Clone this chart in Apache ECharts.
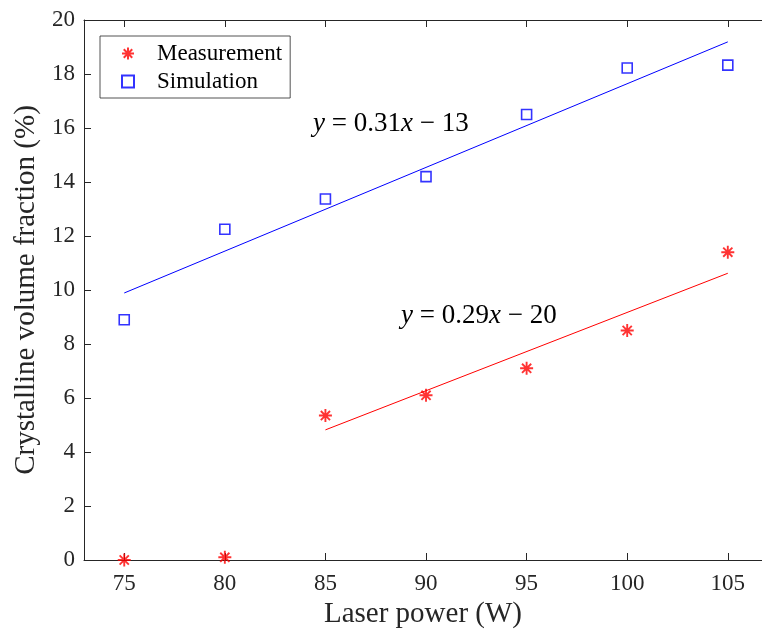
<!DOCTYPE html>
<html>
<head>
<meta charset="utf-8">
<script src="https://cdn.jsdelivr.net/npm/echarts@6/dist/echarts.min.js"></script>
<style>
  html, body { margin: 0; padding: 0; background: #fff; }
  #chart { width: 762px; height: 630px; }
</style>
</head>
<body>
<div id="chart"></div>
<script>
// Laser power settings (W)
const laserPower = [75, 80, 85, 90, 95, 100, 105];
// Crystalline volume fraction (%)
const measurement = [0, 0.1, 5.35, 6.1, 7.1, 8.5, 11.4];
const simulation = [8.9, 12.25, 13.37, 14.2, 16.5, 18.22, 18.33];

// Linear fits drawn between their end points
const simFitX = [75, 105];
const simFitY = [9.89, 19.19];
const measFitX = [85, 105];
const measFitY = [4.82, 10.62];

const xTicks = [75, 80, 85, 90, 95, 100, 105];
const yTicks = [0, 2, 4, 6, 8, 10, 12, 14, 16, 18, 20];

const simEquation = ['y', ' = 0.31', 'x', ' \u2212 13'];
const measEquation = ['y', ' = 0.29', 'x', ' \u2212 20'];

const FONT = 'Liberation Serif';
const INK = '#262626';

const pairs = (xs, ys) => xs.map((x, i) => [x, ys[i]]);

// Eight-spoke asterisk marker and open square marker
const asterisk = 'path://M0,-1L0,1M-1,0L1,0M-0.707,-0.707L0.707,0.707M-0.707,0.707L0.707,-0.707';
const square = 'path://M0,0L1,0L1,1L0,1Z';

function eqRich(parts) {
  return '{i|' + parts[0] + '}{n|' + parts[1] + '}{i|' + parts[2] + '}{n|' + parts[3] + '}';
}
const eqStyle = {
  i: { fontFamily: FONT, fontSize: 27, fontStyle: 'italic', fill: '#000' },
  n: { fontFamily: FONT, fontSize: 27, fill: '#000' }
};

const chart = echarts.init(document.getElementById('chart'), null, { renderer: 'canvas' });

const axisLineStyle = { color: INK, width: 1 };

chart.setOption({
  animation: false,
  backgroundColor: '#fff',
  grid: { left: 84, top: 20, right: 0, bottom: 70, containLabel: false, outerBoundsMode: 'none' },
  xAxis: [
    {
      type: 'value', min: 73, max: 106.7, position: 'bottom',
      name: 'Laser power (W)', nameLocation: 'middle', nameGap: 38,
      nameTextStyle: { fontFamily: FONT, fontSize: 29, color: INK },
      axisLine: { show: true, onZero: false, lineStyle: axisLineStyle },
      axisTick: { show: true, inside: true, length: 7, customValues: xTicks, lineStyle: axisLineStyle },
      axisLabel: { customValues: xTicks, fontFamily: FONT, fontSize: 23, color: INK, margin: 12 },
      splitLine: { show: false }
    },
    {
      type: 'value', min: 73, max: 106.7, position: 'top',
      axisLine: { show: true, onZero: false, lineStyle: axisLineStyle },
      axisTick: { show: true, inside: true, length: 7, customValues: xTicks, lineStyle: axisLineStyle },
      axisLabel: { show: false },
      splitLine: { show: false }
    }
  ],
  yAxis: [
    {
      type: 'value', min: 0, max: 20, interval: 2, position: 'left',
      name: 'Crystalline volume fraction (%)', nameLocation: 'middle', nameGap: 35,
      nameTextStyle: { fontFamily: FONT, fontSize: 29, color: INK },
      axisLine: { show: true, onZero: false, lineStyle: axisLineStyle },
      axisTick: { show: true, inside: true, length: 7, customValues: yTicks, lineStyle: axisLineStyle },
      axisLabel: { customValues: yTicks, fontFamily: FONT, fontSize: 23, color: INK, margin: 9 },
      splitLine: { show: false }
    }
  ],
  legend: {
    data: ['Measurement', 'Simulation'],
    orient: 'vertical',
    left: 100, top: 36,
    padding: [6, 8, 5, 21],
    itemGap: 5,
    itemWidth: 14, itemHeight: 12,
    symbolKeepAspect: true,
    borderColor: INK, borderWidth: 0.8,
    backgroundColor: '#fff',
    textStyle: { fontFamily: FONT, fontSize: 23, color: '#000', padding: [0, 0, 0, 17] }
  },
  series: [
    {
      name: 'Simulation fit', type: 'line',
      data: pairs(simFitX, simFitY),
      symbol: 'none', lineStyle: { color: '#0000ff', width: 1 }, z: 2
    },
    {
      name: 'Measurement fit', type: 'line',
      data: pairs(measFitX, measFitY),
      symbol: 'none', lineStyle: { color: '#ff0000', width: 1 }, z: 2
    },
    {
      name: 'Measurement', type: 'scatter',
      data: pairs(laserPower, measurement),
      symbol: asterisk, symbolSize: 13, clip: false,
      itemStyle: { color: 'rgba(0,0,0,0)', borderColor: '#ff0000', borderWidth: 1.9 },
      z: 5
    },
    {
      name: 'Simulation', type: 'scatter',
      data: pairs(laserPower, simulation),
      symbol: square, symbolSize: 10, clip: false,
      itemStyle: { color: 'rgba(0,0,0,0)', borderColor: '#0000ff', borderWidth: 1.6 },
      z: 5
    }
  ],
  graphic: [
    {
      type: 'text', left: 313, top: 110, z: 10,
      style: { text: eqRich(simEquation), rich: eqStyle, fontFamily: FONT, fontSize: 27 }
    },
    {
      type: 'text', left: 401, top: 302, z: 10,
      style: { text: eqRich(measEquation), rich: eqStyle, fontFamily: FONT, fontSize: 27 }
    }
  ]
});
</script>
</body>
</html>
